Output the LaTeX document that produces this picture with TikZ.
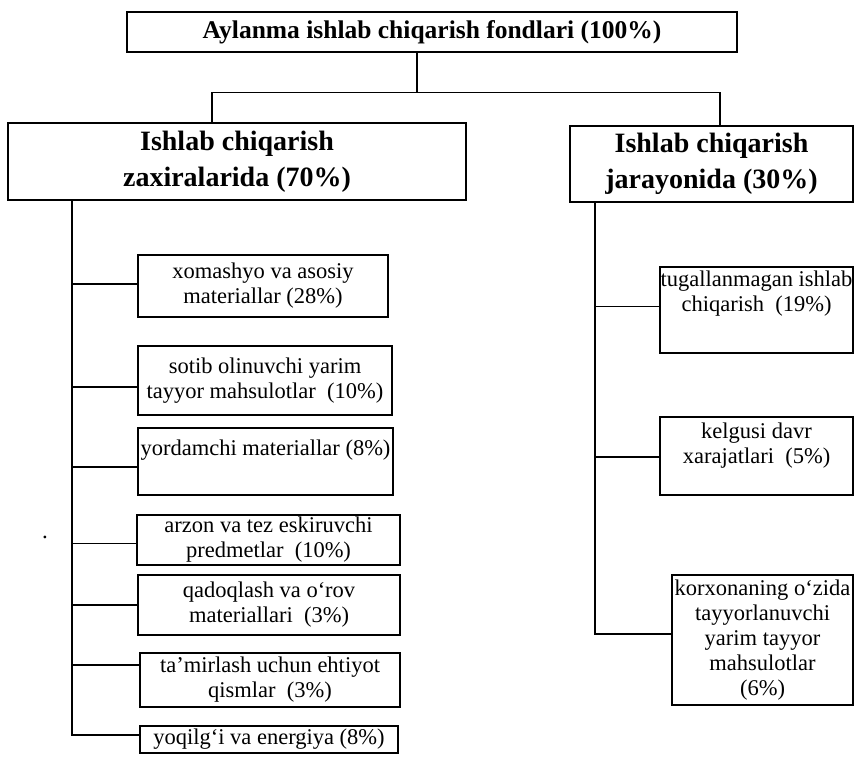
\documentclass[tikz,border=0pt]{standalone}
\usepackage{fontspec}
\setmainfont{Liberation Serif}
\begin{document}
\begin{tikzpicture}[x=1pt,y=-1pt,
  box/.style={draw,line width=1.4pt,align=center,inner xsep=0pt,inner ysep=0pt},
  head/.style={box,font=\fontsize{28}{36}\selectfont\bfseries},
  kid/.style={box,font=\fontsize{22.5}{25}\selectfont},
  link/.style={line width=1.2pt}]
\useasboundingbox (0,0) rectangle (854,756);
\node[box,font=\fontsize{25.5}{28}\selectfont\bfseries,minimum width=610pt,minimum height=40pt] (top) at (432,32) {Aylanma ishlab chiqarish fondlari (100\%)};
\node[head,minimum width=458pt,minimum height=77pt] (zax) at (237,161.5) {Ishlab chiqarish\\zaxiralarida (70\%)};
\node[head,minimum width=283pt,minimum height=76pt] (jar) at (711.5,164) {Ishlab chiqarish\\jarayonida (30\%)};
% zaxiralar
\node[kid,minimum width=250pt,minimum height=62pt] (xom) at (263,286) {xomashyo va asosiy\\materiallar (28\%)};
\node[kid,minimum width=254pt,minimum height=69pt] (sot) at (265,380.5) {sotib olinuvchi yarim\\tayyor mahsulotlar~~(10\%)};
\node[kid,minimum width=255pt,minimum height=67pt,text depth=28pt] (yor) at (265.5,461.5) {yordamchi materiallar (8\%)};
\node[kid,minimum width=263pt,minimum height=50pt] (arz) at (268.5,540) {arzon va tez eskiruvchi\\predmetlar~~(10\%)};
\node[kid,minimum width=262pt,minimum height=60pt] (qad) at (269,605) {qadoqlash va o‘rov\\materiallari~~(3\%)};
\node[kid,minimum width=260pt,minimum height=54pt] (tam) at (270,680) {ta’mirlash uchun ehtiyot\\qismlar~~(3\%)};
\node[kid,minimum width=258pt,minimum height=27pt] (yoq) at (269,739.5) {yoqilg‘i va energiya (8\%)};
% jarayon
\node[kid,minimum width=193pt,minimum height=86pt,text depth=37pt] (tug) at (756.5,310) {tugallanmagan ishlab\\chiqarish~~(19\%)};
\node[kid,minimum width=193pt,minimum height=78pt,text depth=25pt] (kel) at (756.5,456) {kelgusi davr\\xarajatlari~~(5\%)};
\node[kid,minimum width=181pt,minimum height=130pt] (kor) at (762.5,640) {korxonaning o‘zida\\tayyorlanuvchi\\yarim tayyor\\mahsulotlar\\(6\%)};
\node[font=\fontsize{23}{25}\selectfont,inner sep=0pt] (dot) at (45,537) {.};
% links
\draw[link] ([xshift=-15pt]top.south) -- ++(0,40) coordinate (split);
\draw[link] (split) -| ([xshift=-25pt]zax.north);
\draw[link] (split) -| ([xshift=8.5pt]jar.north);
\coordinate (lt) at ([xshift=-165pt]zax.south);
\draw[link] (lt) |- ([yshift=4.5pt]yoq.west);
\foreach \n/\dy in {xom/2,sot/-6.5,yor/-5.5,arz/-3.5,qad/0,tam/15}{
  \path ([yshift=\dy pt]\n.west) coordinate (c);
  \draw[link] (c) -- (c -| lt);
}
\coordinate (rt) at ([xshift=-116.5pt]jar.south);
\draw[link] (rt) |- ([yshift=6pt]kor.west);
\foreach \n/\dy in {tug/3.5,kel/-1}{
  \path ([yshift=\dy pt]\n.west) coordinate (c);
  \draw[link] (c) -- (c -| rt);
}
\end{tikzpicture}
\end{document}
